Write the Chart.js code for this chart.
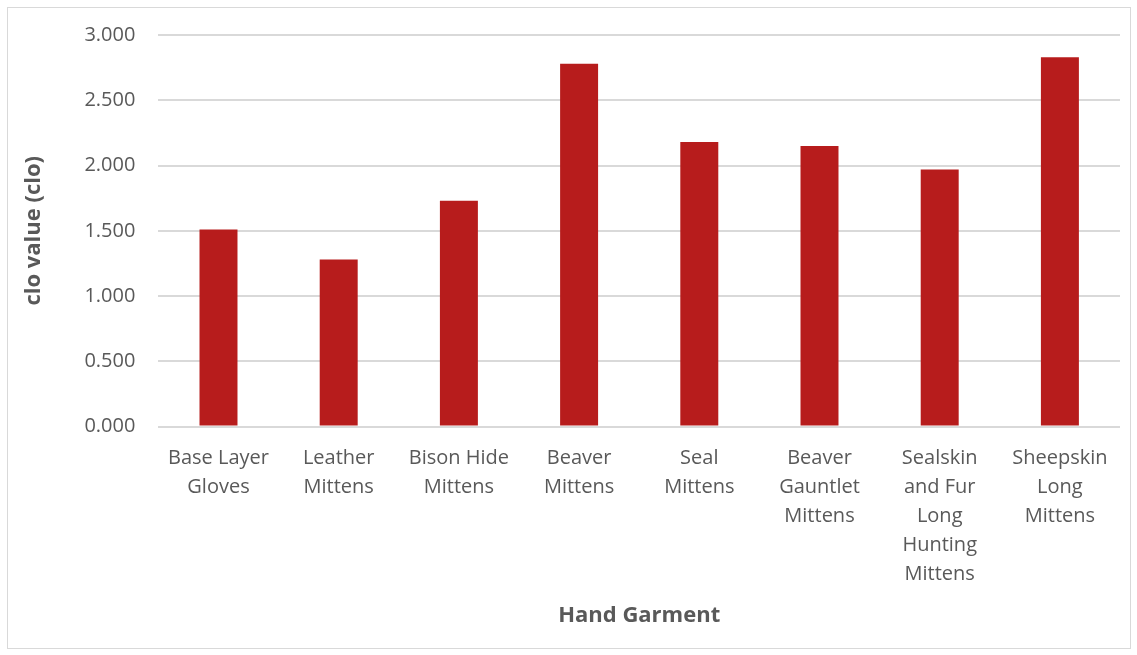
<!DOCTYPE html>
<html>
<head>
<meta charset="utf-8">
<script src="https://cdn.jsdelivr.net/npm/chart.js@4/dist/chart.umd.min.js"></script>
<style>
  html, body { margin: 0; padding: 0; background: #fff; }
  #wrap { position: relative; width: 1137px; height: 655px; }
  #frame { position: absolute; left: 7px; top: 7px; width: 1122px; height: 640px; border: 1px solid #d9d9d9; pointer-events: none; }
</style>
</head>
<body>
<div id="wrap">
  <canvas id="cloChart" width="1137" height="655"></canvas>
  <div id="frame"></div>
</div>
<script>
  "use strict";
  var garments = [
    ["Base Layer", "Gloves"],
    ["Leather", "Mittens"],
    ["Bison Hide", "Mittens"],
    ["Beaver", "Mittens"],
    ["Seal", "Mittens"],
    ["Beaver", "Gauntlet", "Mittens"],
    ["Sealskin", "and Fur", "Long", "Hunting", "Mittens"],
    ["Sheepskin", "Long", "Mittens"]
  ];
  var cloValues = [1.51, 1.28, 1.73, 2.78, 2.18, 2.15, 1.97, 2.83];
  var yTicks = [0, 0.5, 1, 1.5, 2, 2.5, 3];

  var txt = '#595959';
  var ctx = document.getElementById("cloChart");
  new Chart(ctx, {
    type: "bar",
    data: {
      labels: garments,
      datasets: [{
        label: "clo value",
        backgroundColor: '#b71c1c',
        borderWidth: 0,
        data: cloValues,
        barPercentage: 0.316,
        categoryPercentage: 1
      }]
    },
    options: {
      responsive: false,
      animation: false,
      layout: {
        padding: { left: 21, right: 17, top: 28, bottom: 26 }
      },
      plugins: {
        legend: { display: false },
        tooltip: { enabled: false }
      },
      scales: {
        y: {
          min: 0,
          max: 3,
          afterBuildTicks: function (axis) {
            axis.ticks = yTicks.map(function (v) { return { value: v }; });
          },
          border: { display: false },
          grid: {
            color: '#d9d9d9',
            lineWidth: 2,
            drawTicks: false
          },
          ticks: {
            padding: 23,
            color: txt,
            font: { family: "'Open Sans', sans-serif", size: 20 },
            callback: function (v) { return Number(v).toFixed(3); }
          },
          title: {
            display: true,
            text: "clo value (clo)",
            color: txt,
            padding: { top: 0, bottom: 14 },
            font: { family: "'Open Sans', sans-serif", size: 22, weight: 'bold' }
          }
        },
        x: {
          border: { display: false },
          grid: { display: false, drawTicks: false },
          ticks: {
            padding: 17.5,
            color: txt,
            autoSkip: false,
            maxRotation: 0,
            font: { family: "'Open Sans', sans-serif", size: 20, lineHeight: 1.45 }
          },
          title: {
            display: true,
            text: "Hand Garment",
            color: txt,
            padding: { top: -4, bottom: 0 },
            font: { family: "'Open Sans', sans-serif", size: 22, weight: 'bold' }
          }
        }
      }
    }
  });
</script>
</body>
</html>
